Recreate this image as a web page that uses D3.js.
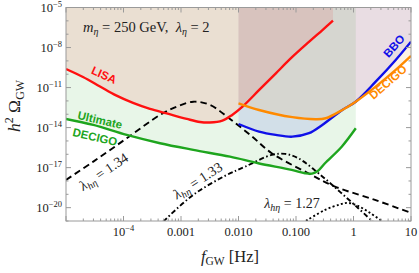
<!DOCTYPE html>
<html>
<head>
<meta charset="utf-8">
<script src="https://cdn.jsdelivr.net/npm/d3@7"></script>
<style>
body { margin: 0; background: #fff; }
text { font-family: "Liberation Serif", "DejaVu Serif", serif; }
.tag { font-family: "Liberation Sans", Arial, sans-serif; font-weight: bold; }
</style>
</head>
<body>
<svg width="419" height="273"></svg>
<script>
// all values are log10 of f [Hz] and of h^2 Omega_GW
var lisaF   = [-5, -4.704, -4.409, -4.13, -3.835, -3.54, -3.249, -2.9, -2.67, -2.5, -2.28, -2.11, -1.93, -1.64, -1.35, -1.06, -0.77, -0.54, -0.357];
var lisaO   = [-9.61, -10.21, -10.92, -11.59, -12.15, -12.6, -12.94, -13.35, -13.58, -13.62, -13.48, -13.05, -12.43, -11.18, -9.93, -8.69, -7.56, -6.69, -5.99];

var udecF   = [-5, -4.525, -3.944, -3.365, -2.786, -2.148, -1.656, -1.075, -0.843, -0.72, -0.62, -0.496, -0.205, 0.04];
var udecO   = [-13.35, -13.8, -14.55, -15.17, -15.67, -16.18, -16.67, -17.17, -17.42, -17.45, -17.25, -16.67, -15.43, -14.05];

var decigoF = [-2, -1.643, -1.064, -0.657, -0.483, -0.195, 0.038, 0.386, 0.734, 1];
var decigoO = [-12.18, -12.68, -13.22, -13.37, -13.3, -12.68, -12.06, -10.93, -9.68, -8.63];

var bboF    = [-2, -1.643, -1.353, -1.064, -0.774, -0.543, -0.195, 0.038, 0.386, 0.734, 1];
var bboO    = [-13.73, -14.3, -14.55, -14.68, -14.42, -13.8, -12.68, -12.06, -10.56, -8.93, -7.56];

var l134F   = [-5, -4.525, -3.944, -3.365, -3.075, -2.786, -2.496, -2.165, -1.76, -1.423, -0.786, -0.322, 0.374, 1];
var l134O   = [-17.92, -16.55, -14.8, -13.05, -12.43, -12.06, -12.3, -13.3, -14.68, -15.92, -17.42, -18.42, -19.42, -20.39];

var l133F   = [-3.308, -2.786, -2.205, -1.887, -1.423, -1.19, -0.96, -0.553, -0.235, 0.078, 0.339];
var l133O   = [-21.04, -19.04, -17.55, -16.93, -16.05, -15.97, -16.3, -17.62, -18.82, -20.02, -21.07];

var l127F   = [-0.826, -0.496, -0.235, -0.096, 0.078, 0.287, 0.513];
var l127O   = [-20.99, -20.17, -19.76, -19.64, -19.87, -20.39, -21.06];

var xMajor  = [1e-4, 1e-3, 1e-2, 1e-1, 1, 10];
var xLabels = ["10|-4", "0.001", "0.010", "0.100", "1", "10"];
var yMajor  = [-5, -8, -11, -14, -17, -20];

(function () {
var svg = d3.select("svg");
var pl = 66, pr = 411, pt = 7.5, pb = 221;

var x = d3.scaleLog().domain([1e-5, 10]).range([pl, pr]);
var y = d3.scaleLog().domain([1e-21, 1e-5]).range([pb, pt]);

function pts(fs, os) {
    return fs.map(function (f, i) { return [Math.pow(10, f), Math.pow(10, os[i])]; });
}

svg.append("clipPath").attr("id", "plot")
    .append("rect").attr("x", pl).attr("y", pt).attr("width", pr - pl).attr("height", pb - pt);

var curve = d3.curveCatmullRom.alpha(0.5);
var area = d3.area()
    .x(function (d) { return x(d[0]); })
    .y0(pt)
    .y1(function (d) { return y(d[1]); })
    .curve(curve);
var line = d3.line()
    .x(function (d) { return x(d[0]); })
    .y(function (d) { return y(d[1]); })
    .curve(curve);

var g = svg.append("g").attr("clip-path", "url(#plot)");

var sens = [
    { f: udecF, o: udecO, c: "#1ea51e" },
    { f: lisaF, o: lisaO, c: "#ff1010" },
    { f: bboF, o: bboO, c: "#1010e8" },
    { f: decigoF, o: decigoO, c: "#ff8a00" }
];
sens.forEach(function (s) {
    g.append("path").attr("d", area(pts(s.f, s.o)))
        .attr("fill", s.c).attr("fill-opacity", 0.1);
});

var bench = [
    { f: l134F, o: l134O, dash: "6.5,4" },
    { f: l133F, o: l133O, dash: "5,2.5,1.5,2.5" },
    { f: l127F, o: l127O, dash: "2,2.3" }
];
bench.forEach(function (b) {
    g.append("path").attr("d", line(pts(b.f, b.o)))
        .attr("fill", "none").attr("stroke", "#000").attr("stroke-width", 1.9)
        .attr("stroke-dasharray", b.dash);
});

sens.forEach(function (s) {
    g.append("path").attr("d", line(pts(s.f, s.o)))
        .attr("fill", "none").attr("stroke", s.c).attr("stroke-width", 2.4);
});

// frame and ticks
var axisCol = "#9a9a9a";
svg.append("rect").attr("x", pl).attr("y", pt).attr("width", pr - pl).attr("height", pb - pt)
    .attr("fill", "none").attr("stroke", axisCol).attr("stroke-width", 1);

var xt = [];
for (var e = -5; e < 1; e++) {
    for (var m = 1; m < 10; m++) xt.push({ v: m * Math.pow(10, e), major: m === 1 });
}
xt.push({ v: 10, major: true });
xt.forEach(function (t) {
    var len = t.major ? 5 : 2.5, px = x(t.v);
    svg.append("line").attr("x1", px).attr("x2", px).attr("y1", pb).attr("y2", pb - len).attr("stroke", axisCol);
    svg.append("line").attr("x1", px).attr("x2", px).attr("y1", pt).attr("y2", pt + len).attr("stroke", axisCol);
});
for (var k = -21; k <= -5; k++) {
    var maj = yMajor.indexOf(k) >= 0, len = maj ? 5 : 2.5, py = y(Math.pow(10, k));
    svg.append("line").attr("x1", pl).attr("x2", pl + len).attr("y1", py).attr("y2", py).attr("stroke", axisCol);
    svg.append("line").attr("x1", pr).attr("x2", pr - len).attr("y1", py).attr("y2", py).attr("stroke", axisCol);
}

yMajor.forEach(function (k) {
    var t = svg.append("text").attr("x", pl - 4).attr("y", y(Math.pow(10, k)) + 4.5)
        .attr("text-anchor", "end").attr("font-size", 12.5).attr("fill", "#222");
    t.append("tspan").text("10");
    t.append("tspan").attr("font-size", 8.5).attr("dy", -5.5).text("\u2212" + (-k));
});
xMajor.forEach(function (v, i) {
    var t = svg.append("text").attr("x", x(v)).attr("y", 236)
        .attr("text-anchor", "middle").attr("font-size", 12.5).attr("fill", "#222");
    var parts = xLabels[i].split("|");
    t.append("tspan").text(parts[0]);
    if (parts[1]) t.append("tspan").attr("font-size", 8.5).attr("dy", -5.5).text("\u2212" + parts[1].slice(1));
});

// axis titles
var xl = svg.append("text").attr("x", 230).attr("y", 262).attr("text-anchor", "middle").attr("font-size", 16.5).attr("fill", "#222");
xl.append("tspan").attr("font-style", "italic").text("f");
xl.append("tspan").attr("font-size", 11.5).attr("dy", 3).text("GW");
xl.append("tspan").attr("dy", -3).text("\u00a0[Hz]");

var yl = svg.append("text").attr("transform", "translate(20,106) rotate(-90)")
    .attr("font-size", 17.5).attr("fill", "#222");
yl.append("tspan").attr("x", -26).attr("font-style", "italic").text("h");
yl.append("tspan").attr("font-size", 12).attr("dy", -7).text("2");
yl.append("tspan").attr("dy", 7).text("\u00a0\u03a9");
yl.append("tspan").attr("font-size", 12).attr("dy", 3.5).text("GW");

// title
var tt = svg.append("text").attr("x", 83).attr("y", 32).attr("font-size", 14.5).attr("fill", "#222");
tt.append("tspan").attr("font-style", "italic").text("m");
tt.append("tspan").attr("font-style", "italic").attr("font-size", 10).attr("dy", 3).text("\u03b7");
tt.append("tspan").attr("dy", -3).text("\u00a0=\u00a0250\u00a0GeV,\u00a0\u00a0");
tt.append("tspan").attr("font-style", "italic").text("\u03bb");
tt.append("tspan").attr("font-style", "italic").attr("font-size", 10).attr("dy", 3).text("\u03b7");
tt.append("tspan").attr("dy", -3).text("\u00a0=\u00a02");

// curve tags
function tag(txt, cx, cy, ang, col) {
    svg.append("text").attr("class", "tag").attr("transform", "translate(" + cx + "," + cy + ") rotate(" + ang + ")")
        .attr("text-anchor", "middle").attr("dy", "0.35em").attr("font-size", 11.5).attr("fill", col).text(txt);
}
tag("LISA", 104, 75, 24, "#ff1010");
tag("Ultimate", 100, 120, 13, "#1ea51e");
tag("DECIGO", 95, 137, 13, "#1ea51e");
tag("BBO", 394, 46, -48, "#1010e8");
tag("DECIGO", 388, 82, -41, "#ff8a00");

function lam(val, cx, cy, ang) {
    var t = svg.append("text").attr("transform", "translate(" + cx + "," + cy + ") rotate(" + ang + ")")
        .attr("text-anchor", "middle").attr("dy", "0.3em").attr("font-size", 14).attr("fill", "#222");
    t.append("tspan").attr("font-style", "italic").text("\u03bb");
    t.append("tspan").attr("font-style", "italic").attr("font-size", 10).attr("dy", 3).text("h\u03b7");
    t.append("tspan").attr("dy", -3).text("\u00a0=\u00a0" + val);
}
lam("1.34", 104, 172, -34);
lam("1.33", 198, 181, -33);
lam("1.27", 292, 204, 0);
})();
</script>
</body>
</html>
